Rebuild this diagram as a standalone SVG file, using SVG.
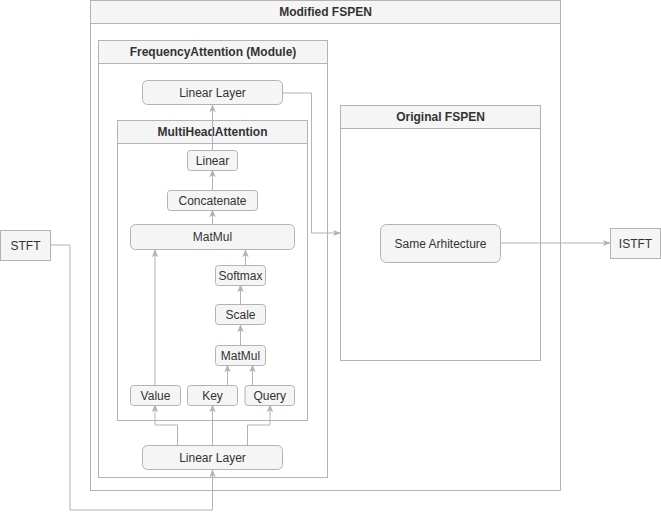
<svg xmlns="http://www.w3.org/2000/svg" width="661" height="519" viewBox="0 0 661 519">
<style>
.c{fill:#ffffff;stroke:#b3b3b3;stroke-width:1}
.h{fill:#f5f5f5;stroke:#b3b3b3;stroke-width:1}
.n{fill:#f5f5f5;stroke:#b3b3b3;stroke-width:1}
.t{font-family:"Liberation Sans",Arial,sans-serif;font-size:12px;fill:#333333;text-anchor:middle;dominant-baseline:central}
.b{font-weight:bold}
.e{fill:none;stroke:#b3b3b3;stroke-width:1}
</style>
<defs>
<marker id="a" viewBox="0 0 10 10" refX="9" refY="5" markerWidth="8" markerHeight="8" markerUnits="userSpaceOnUse" orient="auto">
<path d="M0,1 L10,5 L0,9 L2.5,5 z" fill="#b3b3b3"/>
</marker>
</defs>
<rect width="661" height="519" fill="#ffffff"/>

<g id="modified-fspen">
<rect class="c" x="90.5" y="0.5" width="470" height="490"/>
<rect class="h" x="90.5" y="0.5" width="470" height="23"/>
<text class="t b" x="325.5" y="12">Modified FSPEN</text>
</g>

<g id="frequency-attention">
<rect class="c" x="98.5" y="40.5" width="229" height="437"/>
<rect class="h" x="98.5" y="40.5" width="229" height="23"/>
<text class="t b" x="213" y="52">FrequencyAttention (Module)</text>
</g>

<g id="original-fspen">
<rect class="c" x="340.5" y="105.5" width="200" height="255"/>
<rect class="h" x="340.5" y="105.5" width="200" height="23"/>
<text class="t b" x="440.5" y="117">Original FSPEN</text>
</g>

<g id="linear-layer-top">
<rect class="n" x="142.5" y="80.5" width="140" height="24" rx="5"/>
<text class="t" x="212.5" y="92.5">Linear Layer</text>
</g>

<g id="multihead-attention">
<rect class="c" x="117.5" y="120.5" width="190" height="300"/>
<rect class="h" x="117.5" y="120.5" width="190" height="23"/>
<text class="t b" x="212.5" y="132">MultiHeadAttention</text>
</g>

<g id="connectors">
<path class="e" d="M50,245 H70 V510 H212.5 V470" marker-end="url(#a)"/>
<path class="e" d="M177.5,445 V425 H155 V405" marker-end="url(#a)"/>
<path class="e" d="M212.5,445 V405" marker-end="url(#a)"/>
<path class="e" d="M247.5,445 V425 H270 V405" marker-end="url(#a)"/>
<path class="e" d="M155,385 V250" marker-end="url(#a)"/>
<path class="e" d="M227.5,385 V365" marker-end="url(#a)"/>
<path class="e" d="M252.5,385 V365" marker-end="url(#a)"/>
<path class="e" d="M240.5,345 V325" marker-end="url(#a)"/>
<path class="e" d="M240.5,305 V285" marker-end="url(#a)"/>
<path class="e" d="M245.5,265 V250" marker-end="url(#a)"/>
<path class="e" d="M212.5,224 V210" marker-end="url(#a)"/>
<path class="e" d="M212.5,190 V170" marker-end="url(#a)"/>
<path class="e" d="M212.5,150 V105" marker-end="url(#a)"/>
<path class="e" d="M282.5,93 H311.5 V233 H340" marker-end="url(#a)"/>
<path class="e" d="M500.5,243 H610" marker-end="url(#a)"/>
</g>

<g id="linear">
<rect class="n" x="187.5" y="150.5" width="50" height="20" rx="3"/>
<text class="t" x="212.5" y="160.5">Linear</text>
</g>
<g id="concatenate">
<rect class="n" x="167.5" y="190.5" width="90" height="20" rx="3"/>
<text class="t" x="212.5" y="200.5">Concatenate</text>
</g>
<g id="matmul-big">
<rect class="n" x="130.5" y="224.5" width="164" height="25" rx="5"/>
<text class="t" x="212.5" y="237">MatMul</text>
</g>
<g id="softmax">
<rect class="n" x="215.5" y="265.5" width="50" height="20" rx="3"/>
<text class="t" x="240.5" y="275.5">Softmax</text>
</g>
<g id="scale">
<rect class="n" x="215.5" y="304.5" width="50" height="20" rx="3"/>
<text class="t" x="240.5" y="314.5">Scale</text>
</g>
<g id="matmul-small">
<rect class="n" x="215.5" y="345.5" width="50" height="20" rx="3"/>
<text class="t" x="240.5" y="355.5">MatMul</text>
</g>
<g id="value">
<rect class="n" x="130.5" y="385.5" width="50" height="20" rx="3"/>
<text class="t" x="155.5" y="395.5">Value</text>
</g>
<g id="key">
<rect class="n" x="187.5" y="385.5" width="50" height="20" rx="3"/>
<text class="t" x="212.5" y="395.5">Key</text>
</g>
<g id="query">
<rect class="n" x="245" y="385.5" width="49.5" height="20" rx="3"/>
<text class="t" x="269.75" y="395.5">Query</text>
</g>
<g id="linear-layer-bottom">
<rect class="n" x="142.5" y="445.5" width="140" height="24" rx="5"/>
<text class="t" x="212.5" y="457.5">Linear Layer</text>
</g>
<g id="same-architecture">
<rect class="n" x="380.5" y="224.5" width="120" height="38" rx="6"/>
<text class="t" x="440.5" y="243.5">Same Arhitecture</text>
</g>
<g id="stft">
<rect class="n" x="0.5" y="230.5" width="50" height="30"/>
<text class="t" x="25.5" y="245.5">STFT</text>
</g>
<g id="istft">
<rect class="n" x="610.5" y="228.5" width="50" height="30"/>
<text class="t" x="635.5" y="243.5">ISTFT</text>
</g>
</svg>
